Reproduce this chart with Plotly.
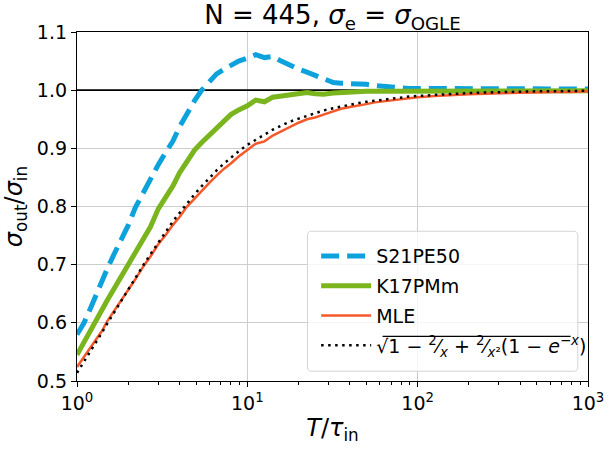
import plotly.graph_objects as go

# ---- data ----
T_ratio = [1, 1.1, 1.2, 1.3, 1.4, 1.5, 1.65, 1.8, 2.0, 2.2, 2.45, 2.7, 3.0, 3.3, 3.65,
           4.0, 4.4, 4.9, 5.4, 6.0, 6.6, 7.3, 8.0, 8.9, 10, 11.2, 12.6, 14.1, 15.8,
           17.8, 20, 22.4, 25, 28, 32, 35.5, 40, 45, 50, 56, 63, 71, 80, 89, 100,
           126, 158, 200, 251, 316, 398, 501, 631, 794, 1000]

s21pe50 = [0.580, 0.600, 0.625, 0.650, 0.672, 0.692, 0.718, 0.740, 0.768, 0.798, 0.825,
           0.848, 0.872, 0.892, 0.912, 0.937, 0.960, 0.982, 1.000, 1.015, 1.028, 1.036,
           1.042, 1.050, 1.055, 1.061, 1.056, 1.058, 1.050, 1.042, 1.036, 1.031, 1.026,
           1.020, 1.013, 1.012, 1.012, 1.011, 1.010, 1.008, 1.006, 1.005, 1.004, 1.003,
           1.003, 1.002, 1.003, 1.002, 1.002, 1.002, 1.002, 1.002, 1.002, 1.002, 1.002]

k17pmm = [0.545, 0.568, 0.588, 0.605, 0.622, 0.638, 0.658, 0.678, 0.700, 0.722, 0.745,
          0.765, 0.796, 0.815, 0.835, 0.858, 0.876, 0.897, 0.910, 0.923, 0.935, 0.948,
          0.958, 0.966, 0.973, 0.983, 0.980, 0.988, 0.990, 0.991, 0.993, 0.996, 0.994,
          0.993, 0.995, 0.996, 0.997, 0.998, 0.998, 0.998, 0.998, 0.998, 0.998, 0.998,
          0.998, 0.998, 0.999, 0.999, 0.999, 0.999, 0.999, 0.999, 0.999, 0.999, 0.999]

mle = [0.524, 0.541, 0.557, 0.572, 0.586, 0.602, 0.620, 0.636, 0.655, 0.675, 0.697,
       0.714, 0.735, 0.750, 0.768, 0.782, 0.799, 0.814, 0.828, 0.841, 0.853, 0.865,
       0.874, 0.886, 0.897, 0.908, 0.912, 0.922, 0.929, 0.937, 0.944, 0.950, 0.953,
       0.958, 0.963, 0.968, 0.971, 0.973, 0.976, 0.979, 0.981, 0.983, 0.985, 0.987,
       0.988, 0.990, 0.992, 0.993, 0.994, 0.995, 0.996, 0.996, 0.997, 0.997, 0.998]

analytic = [0.514, 0.533, 0.551, 0.568, 0.583, 0.598, 0.618, 0.636, 0.658, 0.677, 0.699,
            0.718, 0.738, 0.756, 0.774, 0.789, 0.805, 0.821, 0.835, 0.850, 0.862, 0.874,
            0.884, 0.895, 0.906, 0.915, 0.924, 0.932, 0.939, 0.946, 0.951, 0.956, 0.961,
            0.965, 0.969, 0.972, 0.975, 0.978, 0.980, 0.982, 0.984, 0.986, 0.988, 0.989,
            0.990, 0.992, 0.994, 0.995, 0.996, 0.997, 0.998, 0.998, 0.998, 0.999, 0.999]

ref_x = [1, 1000]
ref_y = [1.0, 1.0]

x_tickvals = [1, 10, 100, 1000]
x_ticktext = ["10<sup>0</sup>", "10<sup>1</sup>", "10<sup>2</sup>", "10<sup>3</sup>"]
y_tickvals = [0.5, 0.6, 0.7, 0.8, 0.9, 1.0, 1.1]

FONT = "DejaVu Sans"

fig = go.Figure()

fig.add_trace(go.Scatter(x=ref_x, y=ref_y, mode="lines", showlegend=False,
                         line=dict(color="black", width=1.6), hoverinfo="skip"))
fig.add_trace(go.Scatter(x=T_ratio, y=s21pe50, mode="lines", name="S21PE50", legendgroup="a",
                         line=dict(color="#0EA2DC", width=5, dash="18px,8px")))
fig.add_trace(go.Scatter(x=T_ratio, y=k17pmm, mode="lines", name="K17PMm", legendgroup="b",
                         line=dict(color="#7AB51D", width=5)))
fig.add_trace(go.Scatter(x=T_ratio, y=mle, mode="lines", name="MLE", legendgroup="c",
                         line=dict(color="#F4592A", width=2.5)))
formula = ("√1 − <sup>2</sup>⁄<sub><i>x</i></sub>"
           " + <sup>2</sup>⁄<sub><i>x</i>²</sub>(1 − <i>e</i><sup>−<i>x</i></sup>)")
fig.add_trace(go.Scatter(x=T_ratio, y=analytic, mode="lines", name=formula, legendgroup="d",
                         line=dict(color="black", width=2.5, dash="2.5px,4.5px")))

minor_vals = [m * 10 ** e for e in range(3) for m in range(2, 10)]

# legend frame (rounded, semi-transparent) drawn as a shape in paper coordinates
x0, x1, y0, y1 = 0.451, 0.980, 0.028, 0.429
rx, ry = 0.008, 0.012
frame = (f"M {x0+rx},{y0} L {x1-rx},{y0} Q {x1},{y0} {x1},{y0+ry} "
         f"L {x1},{y1-ry} Q {x1},{y1} {x1-rx},{y1} L {x0+rx},{y1} "
         f"Q {x0},{y1} {x0},{y1-ry} L {x0},{y0+ry} Q {x0},{y0} {x0+rx},{y0} Z")
fig.add_shape(type="path", path=frame, xref="paper", yref="paper", layer="above",
              fillcolor="rgba(255,255,255,0.8)", line=dict(color="#d4d4d4", width=1))
# vinculum of the square root in the formula label
fig.add_shape(type="line", xref="paper", yref="paper", layer="above",
              x0=0.598, x1=0.966, y0=0.128, y1=0.128,
              line=dict(color="black", width=1.2))

fig.update_layout(
    width=616, height=449,
    margin=dict(l=77, r=19, t=32, b=65),
    paper_bgcolor="white", plot_bgcolor="white",
    font=dict(family=FONT, size=19, color="black"),
    title=dict(text="N = 445, <i>σ</i><sub>e</sub> = <i>σ</i><sub>OGLE</sub>",
               x=0.5, xref="paper", xanchor="center",
               y=1 - 15 / 449, yref="container", yanchor="middle",
               font=dict(family=FONT, size=26, color="black")),
    xaxis=dict(type="log", range=[0, 3], tickvals=x_tickvals, ticktext=x_ticktext,
               ticks="outside", ticklen=5, tickwidth=1.2, tickcolor="black",
               showline=True, linecolor="black", linewidth=1.3, mirror=True,
               showgrid=True, gridcolor="#cdcdcd", gridwidth=1, zeroline=False,
               tickfont=dict(size=19),
               minor=dict(ticks="outside", ticklen=3, tickcolor="black",
                          tickvals=minor_vals, showgrid=False),
               title=dict(text="<i>T</i>/<i>τ</i><sub>in</sub>", standoff=6,
                          font=dict(size=24))),
    yaxis=dict(range=[0.5, 1.1], tickvals=y_tickvals, tickformat=".1f",
               ticks="outside", ticklen=5, tickwidth=1.2, tickcolor="black",
               showline=True, linecolor="black", linewidth=1.3, mirror=True,
               showgrid=True, gridcolor="#cdcdcd", gridwidth=1, zeroline=False,
               tickfont=dict(size=19),
               title=dict(text="<i>σ</i><sub>out</sub>/<i>σ</i><sub>in</sub>", standoff=8,
                          font=dict(size=24))),
    legend=dict(x=0.468, xanchor="left", y=0.412, yanchor="top",
                bgcolor="rgba(0,0,0,0)", borderwidth=0,
                font=dict(family=FONT, size=19), itemwidth=50, tracegroupgap=2),
)

fig.write_html("out.html")
